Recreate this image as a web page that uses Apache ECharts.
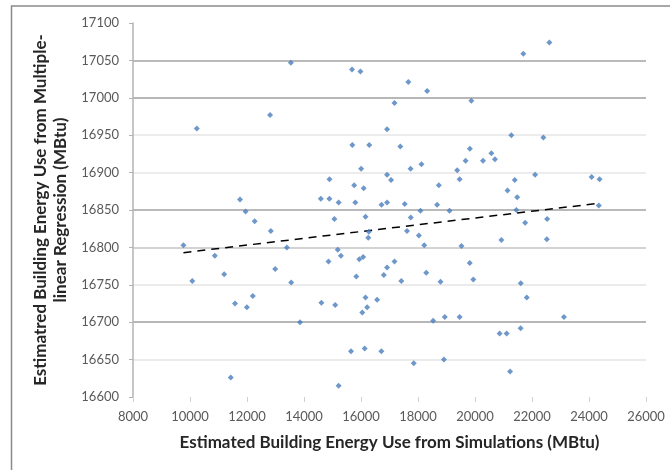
<!DOCTYPE html>
<html>
<head>
<meta charset="utf-8">
<script src="https://cdn.jsdelivr.net/npm/echarts@6/dist/echarts.min.js"></script>
<style>
  html, body { margin: 0; padding: 0; background: #ffffff; }
  #chart { width: 670px; height: 470px; }
</style>
</head>
<body>
<div id="chart"></div>
<script>
// Simulated energy use (x, MBtu) against regression-estimated energy use (y, MBtu)
const simulated = [
  9770, 10080, 10240, 10870, 11200, 11430, 11580, 11755, 11950, 11995,
  12205, 12270, 12810, 12835, 12990, 13400, 13540, 13550, 13860, 14590,
  14610, 14890, 14895, 14860, 15065, 15095, 15215, 15185, 15295, 15215,
  15650, 15685, 15695, 15760, 15800, 15835, 15940, 15980, 16005, 16075,
  16095, 16045, 16130, 16158, 16158, 16215, 16255, 16275, 16290, 16565,
  16715, 16720, 16800, 16915, 16915, 16915, 16915, 17055, 17175, 17175,
  17380, 17415, 17535, 17615, 17660, 17740, 17745, 17850, 18031, 18085,
  18120, 18220, 18290, 18320, 18530, 18670, 18730, 18790, 18910, 18940,
  19105, 19375, 19460, 19460, 19525, 19670, 19820, 19815, 19870, 19940,
  20280, 20575, 20700, 20865, 20925, 21110, 21140, 21230, 21275, 21395,
  21480, 21450, 21600, 21605, 21695, 21760, 21815, 22110, 22400, 22520,
  22530, 22610, 23120, 24093, 24370, 24345
];
const regression = [
  16803, 16755, 16959, 16789, 16764, 16626, 16725, 16864, 16848, 16720,
  16735, 16835, 16977, 16822, 16771, 16800, 17047, 16753, 16700, 16865,
  16726, 16865, 16891, 16781, 16838, 16723, 16860, 16797, 16789, 16615,
  16661, 17038, 16937, 16883, 16860, 16761, 16784, 17035, 16905, 16787,
  16879, 16713, 16665, 16841, 16733, 16720, 16813, 16821, 16937, 16730,
  16661, 16857, 16763, 16773, 16860, 16958, 16897, 16890, 16781, 16993,
  16935, 16755, 16858, 16822, 17021, 16905, 16840, 16645, 16816, 16849,
  16911, 16803, 16766, 17009, 16702, 16857, 16883, 16754, 16650, 16707,
  16849, 16903, 16891, 16707, 16802, 16916, 16932, 16779, 16996, 16757,
  16916, 16926, 16918, 16685, 16810, 16685, 16876, 16634, 16950, 16890,
  16867, 16850, 16692, 16752, 17059, 16833, 16733, 16897, 16947, 16811,
  16838, 17074, 16707, 16894, 16891, 16856
];

// Linear trendline end points
const trendX = [9770, 24350];
const trendY = [16793, 16859];

// Axis ranges
const xRange = { min: 8000, max: 26000, step: 2000 };
const yRange = { min: 16600, max: 17100, step: 50 };

// Gridline shades, one per tick from the bottom up
const gridShades = [
  'rgba(0,0,0,0)', '#e4e4e4', '#9f9f9f', '#e4e4e4', '#c4c4c4', '#a3a3a3',
  '#e6e6e6', '#e6e6e6', '#9f9f9f', '#a3a3a3', 'rgba(0,0,0,0)'
];

const points = simulated.map((x, i) => [x, regression[i]]);
const trend = trendX.map((x, i) => [x, trendY[i]]);

const FONT = 'Lato, "Open Sans", "Liberation Sans", sans-serif';

const chart = echarts.init(document.getElementById('chart'), null, { renderer: 'canvas' });
chart.setOption({
  animation: false,
  backgroundColor: '#ffffff',
  grid: { left: 133, right: 24, top: 23, bottom: 73 },
  graphic: [{
    type: 'rect',
    silent: true,
    shape: { x: 11.5, y: 6, width: 720, height: 520 },
    style: { fill: 'none', stroke: '#8a8a8a', lineWidth: 1.5 }
  }],
  xAxis: {
    type: 'value',
    min: xRange.min, max: xRange.max, interval: xRange.step,
    name: 'Estimated Building Energy Use from Simulations (MBtu)',
    nameLocation: 'middle',
    nameGap: 37,
    nameTextStyle: { fontFamily: FONT, fontSize: 17, fontWeight: 'bold', color: '#262626' },
    axisLine: { show: false },
    axisTick: { show: true, length: 5, lineStyle: { color: '#d0d0d0' } },
    splitLine: { show: false },
    axisLabel: {
      margin: 13, fontFamily: FONT, fontSize: 13, color: '#595959',
      formatter: v => String(v)
    }
  },
  yAxis: {
    type: 'value',
    min: yRange.min, max: yRange.max, interval: yRange.step,
    name: 'Estimatred Building Energy Use from Multiple-\nlinear Regression (MBtu)',
    nameLocation: 'middle',
    nameRotate: 90,
    nameGap: 57,
    nameTextStyle: { fontFamily: FONT, fontSize: 17, fontWeight: 'bold', color: '#262626', lineHeight: 20 },
    axisLine: { show: true, lineStyle: { color: '#b3b3b3', width: 1.5 } },
    axisTick: { show: true, length: 4, lineStyle: { color: '#b3b3b3' } },
    splitLine: { show: true, showMinLine: true, showMaxLine: true, lineStyle: { color: gridShades, width: 1.5 } },
    axisLabel: {
      margin: 14, fontFamily: FONT, fontSize: 13, color: '#595959',
      formatter: v => String(v)
    }
  },
  series: [
    {
      type: 'scatter',
      data: points,
      symbol: 'diamond',
      symbolSize: 6,
      itemStyle: { color: '#4a7dbd' },
      z: 3
    },
    {
      type: 'line',
      data: trend,
      symbol: 'none',
      lineStyle: { color: '#000000', width: 1.5, type: [8, 6] },
      z: 2
    }
  ]
});
</script>
</body>
</html>
